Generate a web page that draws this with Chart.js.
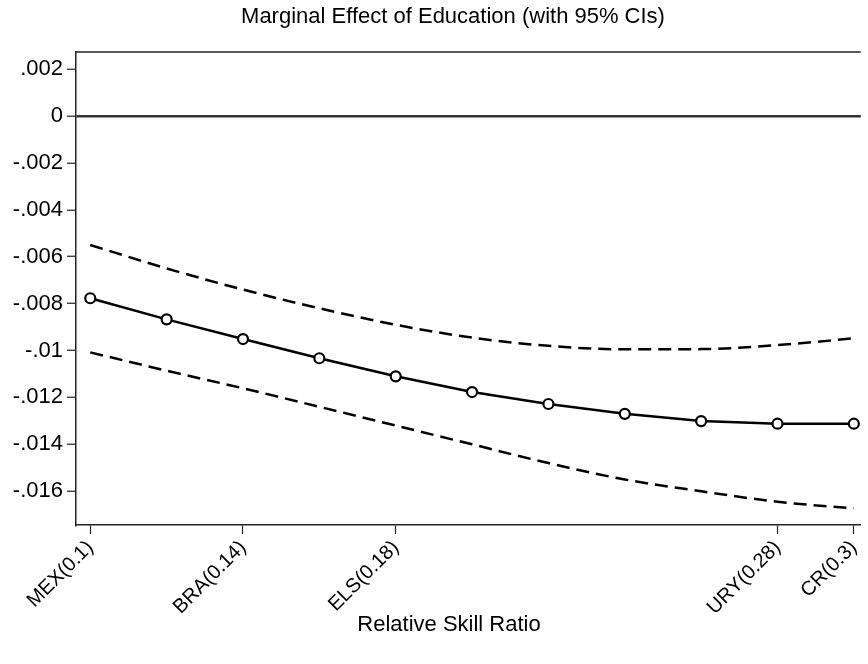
<!DOCTYPE html>
<html>
<head>
<meta charset="utf-8">
<script src="https://cdn.jsdelivr.net/npm/chart.js@4.4.0/dist/chart.umd.min.js"></script>
<style>
  html, body { margin: 0; padding: 0; background: #fff; overflow: hidden; }
  canvas { display: block; }
</style>
</head>
<body>
<canvas id="chart" width="868" height="664"></canvas>
<script>
// Relative skill ratio at which the marginal effect is evaluated
const skillRatio = [0.10, 0.12, 0.14, 0.16, 0.18, 0.20, 0.22, 0.24, 0.26, 0.28, 0.30];
// Marginal effect of education and its 95% confidence bounds
const marginalEffect = [-0.00777, -0.00867, -0.00951, -0.01033, -0.0111, -0.01177, -0.01228, -0.01270, -0.01301, -0.01312, -0.01312];
const ciUpper = [-0.0055, -0.0065, -0.0074, -0.0082, -0.0089, -0.00945, -0.0098, -0.00995, -0.00994, -0.00977, -0.00948];
const ciLower = [-0.01008, -0.01086, -0.01161, -0.0124, -0.0132, -0.0140, -0.0148, -0.0155, -0.0160, -0.01645, -0.01673];
// Country ticks on the x axis
const tickValues = [0.10, 0.14, 0.18, 0.28, 0.30];
const tickLabels = ['MEX(0.1)', 'BRA(0.14)', 'ELS(0.18)', 'URY(0.28)', 'CR(0.3)'];
const chartTitle = 'Marginal Effect of Education (with 95% CIs)';
const xAxisTitle = 'Relative Skill Ratio';

const FONT = "'Liberation Sans', Arial, Helvetica, sans-serif";
const AXIS_COLOR = '#222';

const toPoints = ys => skillRatio.map((x, i) => ({ x: x, y: ys[i] }));

function fmtY(v) {
  if (Math.abs(v) < 1e-9) return '0';
  return String(+v.toFixed(3)).replace('0.', '.');
}

// Top frame edge plus the chart and axis titles
const decorations = {
  id: 'decorations',
  afterDraw(chart) {
    const { ctx, chartArea } = chart;
    ctx.save();
    ctx.strokeStyle = AXIS_COLOR;
    ctx.lineWidth = 1.5;
    ctx.beginPath();
    ctx.moveTo(chartArea.left, chartArea.top);
    ctx.lineTo(chartArea.right, chartArea.top);
    ctx.stroke();

    ctx.fillStyle = '#000';
    ctx.font = '22px ' + FONT;
    ctx.textAlign = 'center';
    ctx.textBaseline = 'alphabetic';
    ctx.fillText(chartTitle, 453, 23);
    ctx.fillText(xAxisTitle, 449, 631);
    ctx.restore();
  }
};

new Chart(document.getElementById('chart'), {
  type: 'line',
  data: {
    datasets: [
      {
        label: 'Marginal effect',
        data: toPoints(marginalEffect),
        borderColor: '#000',
        borderWidth: 2.5,
        tension: 0,
        pointRadius: 5,
        pointBorderWidth: 2.2,
        pointBorderColor: '#000',
        pointBackgroundColor: '#fff',
        fill: false
      },
      {
        label: 'Upper 95% CI',
        data: toPoints(ciUpper),
        borderColor: '#000',
        borderWidth: 2.5,
        borderDash: [13, 7],
        cubicInterpolationMode: 'monotone',
        pointRadius: 0,
        fill: false
      },
      {
        label: 'Lower 95% CI',
        data: toPoints(ciLower),
        borderColor: '#000',
        borderWidth: 2.5,
        borderDash: [13, 7],
        cubicInterpolationMode: 'monotone',
        pointRadius: 0,
        fill: false
      }
    ]
  },
  options: {
    responsive: false,
    animation: false,
    devicePixelRatio: 1,
    layout: { padding: { top: 52, left: 0, right: 0, bottom: 0 } },
    plugins: {
      legend: { display: false },
      title: { display: false },
      tooltip: { enabled: false }
    },
    scales: {
      x: {
        type: 'linear',
        min: 0.09626,
        max: 0.30182,
        afterBuildTicks: scale => { scale.ticks = tickValues.map(v => ({ value: v })); },
        afterFit: scale => { scale.height = 139; scale.paddingLeft = 0; scale.paddingRight = 0; },
        border: { display: true, color: AXIS_COLOR, width: 1.5 },
        grid: { drawOnChartArea: false, color: AXIS_COLOR, tickLength: 9, tickWidth: 1.2 },
        ticks: {
          autoSkip: false,
          maxRotation: 45,
          minRotation: 45,
          padding: 2,
          color: '#000',
          font: { family: FONT, size: 20 },
          callback: v => {
            const i = tickValues.findIndex(t => Math.abs(t - v) < 1e-9);
            return i >= 0 ? tickLabels[i] : '';
          }
        }
      },
      y: {
        min: -0.01744,
        max: 0.00273,
        afterFit: scale => { scale.width = 76; scale.paddingTop = 0; scale.paddingBottom = 0; },
        border: { display: true, color: AXIS_COLOR, width: 1.5 },
        grid: {
          drawOnChartArea: true,
          color: c => (c.tick && Math.abs(c.tick.value) < 1e-9) ? '#333' : 'rgba(0,0,0,0)',
          lineWidth: 2.5,
          tickColor: AXIS_COLOR,
          tickLength: 9,
          tickWidth: 1.2
        },
        ticks: {
          stepSize: 0.002,
          includeBounds: false,
          padding: 4,
          color: '#000',
          font: { family: FONT, size: 22 },
          callback: v => fmtY(v)
        }
      }
    }
  },
  plugins: [decorations]
});
</script>
</body>
</html>
